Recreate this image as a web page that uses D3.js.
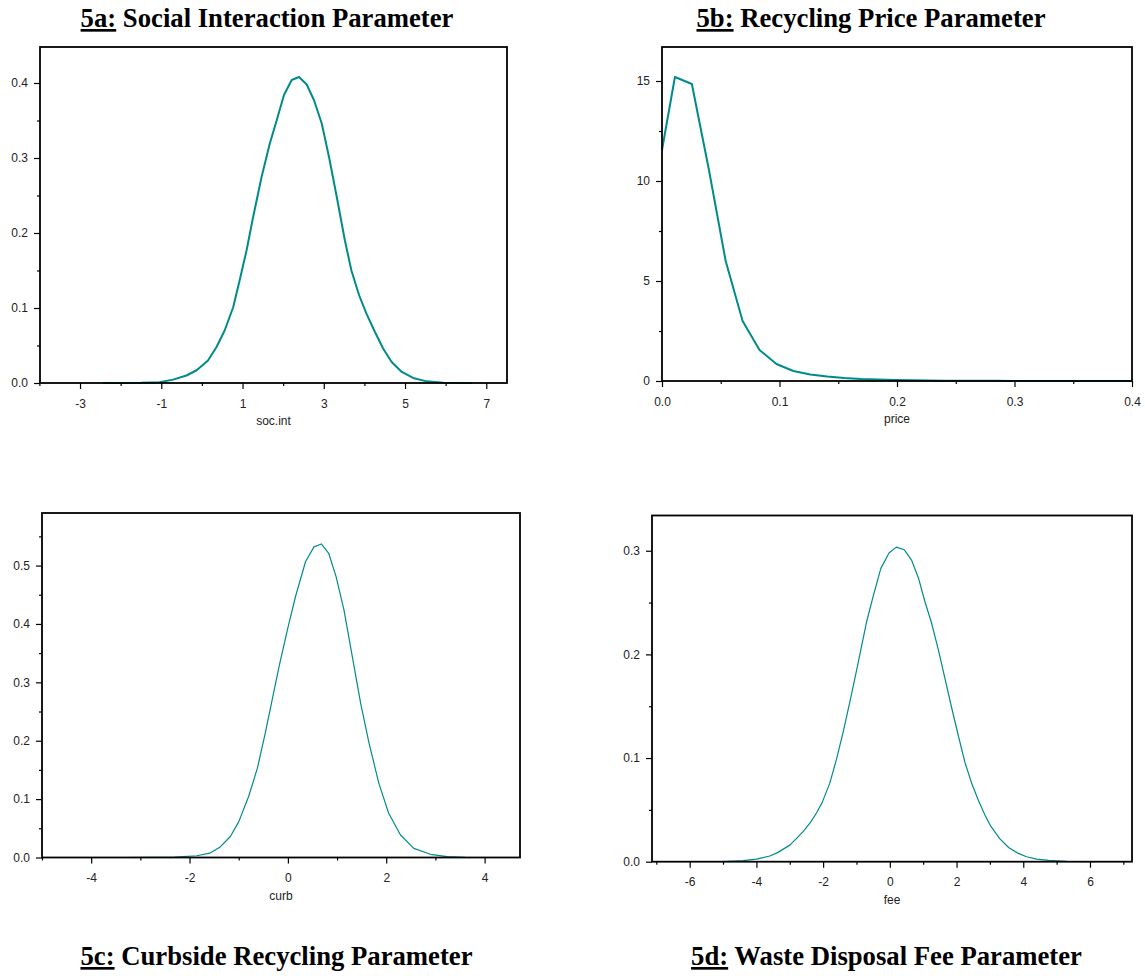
<!DOCTYPE html>
<html>
<head>
<meta charset="utf-8">
<script src="https://cdn.jsdelivr.net/npm/d3@7"></script>
<style>
  body { margin: 0; background: #fff; }
  svg { display: block; }
  .title { font-family: 'Liberation Serif', 'Times New Roman', serif; font-weight: bold; font-size: 26.7px; fill: #000; }
  .tick text, .axis-label { font-family: 'Liberation Sans', Arial, sans-serif; font-size: 12px; fill: #222; }
  .tick line { stroke: #000; stroke-width: 1.2; }
</style>
</head>
<body>
<div id="chart"></div>
<script>
// Density curves (x grid, density)

// 5a: social interaction
var socX = [-2.43, -1.5, -1.04, -0.71, -0.38, -0.13, 0.15, 0.36, 0.56, 0.77, 0.93, 1.10, 1.26, 1.47, 1.67, 1.84, 2.02, 2.21, 2.39, 2.58, 2.76, 2.95, 3.13, 3.32, 3.52, 3.68, 3.87, 4.05, 4.26, 4.46, 4.67, 4.92, 5.20, 5.53, 5.94, 6.64]
var socY = [0, 0.0002, 0.001, 0.0045, 0.010, 0.017, 0.030, 0.048, 0.070, 0.101, 0.137, 0.177, 0.221, 0.275, 0.319, 0.350, 0.384, 0.404, 0.408, 0.398, 0.377, 0.346, 0.301, 0.248, 0.190, 0.150, 0.117, 0.0925, 0.068, 0.046, 0.028, 0.0147, 0.0067, 0.0022, 0.0005, 0]

// 5b: recycling price
var priceX = [0, 0.011, 0.0254, 0.0398, 0.0542, 0.0686, 0.083, 0.0974, 0.1118, 0.1262, 0.1406, 0.155, 0.1694, 0.1838, 0.1982, 0.2126, 0.227, 0.2414, 0.2558, 0.2702, 0.2846, 0.299, 0.3134, 0.3278, 0.3422, 0.3566, 0.371, 0.3854, 0.4]
var priceY = [11.55, 15.2, 14.85, 10.6, 6.0, 3.0, 1.55, 0.85, 0.5, 0.33, 0.22, 0.15, 0.1, 0.07, 0.05, 0.035, 0.025, 0.018, 0.013, 0.01, 0.008, 0.006, 0.005, 0.004, 0.003, 0.0025, 0.002, 0.0015, 0.001]

// 5c: curbside recycling
var curbX = [-3.32, -2.8, -2.3, -1.85, -1.57, -1.37, -1.17, -1.0, -0.8, -0.62, -0.46, -0.32, -0.18, -0.01, 0.155, 0.36, 0.53, 0.68, 0.83, 0.98, 1.14, 1.31, 1.48, 1.65, 1.85, 2.05, 2.29, 2.56, 2.9, 3.24, 3.6, 3.95]
var curbY = [0, 0.0001, 0.0008, 0.003, 0.008, 0.0185, 0.036, 0.061, 0.104, 0.153, 0.213, 0.270, 0.327, 0.390, 0.447, 0.507, 0.532, 0.537, 0.521, 0.481, 0.424, 0.344, 0.264, 0.196, 0.127, 0.0757, 0.0385, 0.0157, 0.0055, 0.0015, 0.0003, 0]

// 5d: waste disposal fee
var feeX = [-5.06, -4.4, -4.0, -3.6, -3.35, -3.0, -2.81, -2.6, -2.38, -2.2, -2.03, -1.8, -1.6, -1.4, -1.2, -1.0, -0.7, -0.5, -0.27, -0.02, 0.195, 0.43, 0.65, 0.86, 1.05, 1.245, 1.45, 1.65, 1.85, 2.05, 2.25, 2.45, 2.65, 2.85, 3.03, 3.3, 3.57, 3.85, 4.1, 4.4, 4.76, 5.3, 6.16]
var feeY = [0, 0.001, 0.0025, 0.0055, 0.009, 0.016, 0.022, 0.029, 0.038, 0.047, 0.057, 0.0758, 0.0987, 0.125, 0.154, 0.184, 0.231, 0.256, 0.283, 0.298, 0.3035, 0.301, 0.291, 0.2735, 0.251, 0.231, 0.205, 0.177, 0.149, 0.122, 0.096, 0.076, 0.0596, 0.045, 0.034, 0.022, 0.0135, 0.008, 0.0048, 0.0025, 0.0012, 0.0004, 0]

// tick values
var socTicksX = [-3, -1, 1, 3, 5, 7]
var socMinorX = [-4, -2, 0, 2, 4, 6]
var socTicksY = [0, 0.1, 0.2, 0.3, 0.4]
var socMinorY = [0.05, 0.15, 0.25, 0.35]

var priceTicksX = [0, 0.1, 0.2, 0.3, 0.4]
var priceMinorX = [0.05, 0.15, 0.25, 0.35]
var priceTicksY = [0, 5, 10, 15]
var priceMinorY = [2.5, 7.5, 12.5]

var curbTicksX = [-4, -2, 0, 2, 4]
var curbMinorX = [-5, -3, -1, 1, 3]
var curbTicksY = [0, 0.1, 0.2, 0.3, 0.4, 0.5]
var curbMinorY = [0.05, 0.15, 0.25, 0.35, 0.45, 0.55]

var feeTicksX = [-6, -4, -2, 0, 2, 4, 6]
var feeMinorX = [-7, -5, -3, -1, 1, 3, 5, 7]
var feeTicksY = [0, 0.1, 0.2, 0.3]
var feeMinorY = [0.05, 0.15, 0.25]

var teal = '#008b8b'

// plain hyphen for negatives, like the original plot
var locale = d3.formatLocale({ decimal: '.', thousands: ',', grouping: [3], currency: ['$', ''], minus: '-' })
var intFmt = locale.format('d')
var oneDec = locale.format('.1f')

var svg = d3.select('#chart').append('svg')
  .attr('width', 1145)
  .attr('height', 976)

var panels = [
  {
    tag: '5a:', title: ' Social Interaction Parameter', label: 'soc.int',
    xs: socX, ys: socY, xDomain: [-3.985, 7.51], yDomain: [0, 0.448],
    left: 40, right: 507, top: 47, bottom: 383,
    ticksX: socTicksX, minorX: socMinorX, ticksY: socTicksY, minorY: socMinorY,
    fmtX: intFmt, fmtY: oneDec, lineWidth: 2,
    titleX: 267, titleY: 27
  },
  {
    tag: '5b:', title: ' Recycling Price Parameter', label: 'price',
    xs: priceX, ys: priceY, xDomain: [0, 0.4], yDomain: [0, 16.7],
    left: 662, right: 1132, top: 47, bottom: 381,
    ticksX: priceTicksX, minorX: priceMinorX, ticksY: priceTicksY, minorY: priceMinorY,
    fmtX: oneDec, fmtY: intFmt, lineWidth: 2,
    titleX: 871, titleY: 27
  },
  {
    tag: '5c:', title: ' Curbside Recycling Parameter', label: 'curb',
    xs: curbX, ys: curbY, xDomain: [-5, 4.72], yDomain: [0, 0.59],
    left: 42, right: 520, top: 513, bottom: 857.5,
    ticksX: curbTicksX, minorX: curbMinorX, ticksY: curbTicksY, minorY: curbMinorY,
    fmtX: intFmt, fmtY: oneDec, lineWidth: 1.2,
    titleX: 276.5, titleY: 965
  },
  {
    tag: '5d:', title: ' Waste Disposal Fee Parameter', label: 'fee',
    xs: feeX, ys: feeY, xDomain: [-7.13, 7.26], yDomain: [0, 0.334],
    left: 652, right: 1132, top: 515.5, bottom: 861.7,
    ticksX: feeTicksX, minorX: feeMinorX, ticksY: feeTicksY, minorY: feeMinorY,
    fmtX: intFmt, fmtY: oneDec, lineWidth: 1.2,
    titleX: 886.5, titleY: 965
  }
]

panels.forEach(drawPanel)

function drawPanel (p) {
  var x = d3.scaleLinear().domain(p.xDomain).range([p.left, p.right])
  var y = d3.scaleLinear().domain(p.yDomain).range([p.bottom, p.top])
  var g = svg.append('g')

  // minor ticks first, then labelled ones
  g.append('g')
    .attr('transform', 'translate(0,' + p.bottom + ')')
    .call(d3.axisBottom(x).tickValues(p.minorX).tickSize(3).tickFormat(''))
  g.append('g')
    .attr('transform', 'translate(0,' + p.bottom + ')')
    .call(d3.axisBottom(x).tickValues(p.ticksX).tickSize(6).tickPadding(10).tickFormat(p.fmtX))
  g.append('g')
    .attr('transform', 'translate(' + p.left + ',0)')
    .call(d3.axisLeft(y).tickValues(p.minorY).tickSize(3).tickFormat(''))
  g.append('g')
    .attr('transform', 'translate(' + p.left + ',0)')
    .call(d3.axisLeft(y).tickValues(p.ticksY).tickSize(6).tickPadding(6).tickFormat(p.fmtY))
  g.selectAll('.domain').remove()

  // curve
  var line = d3.line().x(d => x(d[0])).y(d => y(d[1]))
  g.append('path')
    .datum(d3.zip(p.xs, p.ys))
    .attr('fill', 'none')
    .attr('stroke', teal)
    .attr('stroke-width', p.lineWidth)
    .attr('stroke-linejoin', 'round')
    .attr('d', line)

  // box around the plot
  g.append('rect')
    .attr('x', p.left)
    .attr('y', p.top)
    .attr('width', p.right - p.left)
    .attr('height', p.bottom - p.top)
    .attr('fill', 'none')
    .attr('stroke', '#000')
    .attr('stroke-width', 1.8)

  g.append('text')
    .attr('class', 'axis-label')
    .attr('x', (p.left + p.right) / 2)
    .attr('y', p.bottom + 42)
    .attr('text-anchor', 'middle')
    .text(p.label)

  var t = svg.append('text')
    .attr('class', 'title')
    .attr('x', p.titleX)
    .attr('y', p.titleY)
    .attr('text-anchor', 'middle')
  t.append('tspan').style('text-decoration', 'underline').text(p.tag)
  t.append('tspan').text(p.title)
}
</script>
</body>
</html>
